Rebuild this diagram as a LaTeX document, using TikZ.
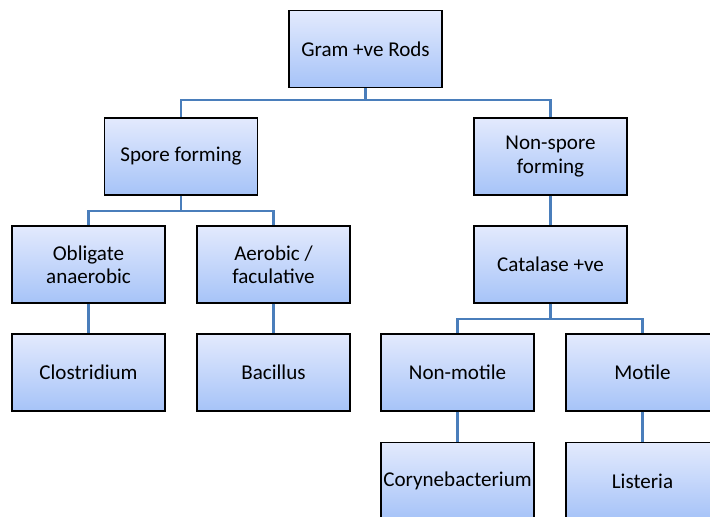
\documentclass[tikz,border=0pt]{standalone}
\usepackage{fontspec}
\setmainfont{Carlito}
\definecolor{linkblue}{HTML}{4A7EBB}
\definecolor{boxtop}{HTML}{E3EAFD}
\definecolor{boxbot}{HTML}{A6C3F8}
\begin{document}
\begin{tikzpicture}[x=0.75pt,y=-0.75pt,
  box/.style={draw=black, line width=1pt, top color=boxtop, bottom color=boxbot,
    minimum width=153*0.75pt, minimum height=77*0.75pt, inner sep=0pt,
    align=center, font=\fontsize{15.8}{17.5}\selectfont},
  link/.style={draw=linkblue, line width=2.2pt}]
\useasboundingbox (0,0) rectangle (710,517);
\clip (0,0) rectangle (710,517);
\node[box] (gram) at (365.5,49) {Gram +ve Rods};
\node[box] (spore) at (181,156.5) {Spore forming};
\node[box] (nonspore) at (550.5,156.5) {Non-spore\\forming};
\node[box] (oblig) at (88.5,264.5) {Obligate\\anaerobic};
\node[box] (aero) at (273.5,264.5) {Aerobic /\\faculative};
\node[box] (cata) at (550.5,264.5) {Catalase +ve};
\node[box] (clos) at (88.5,372.5) {Clostridium};
\node[box] (baci) at (273.5,372.5) {Bacillus};
\node[box] (nonmot) at (457.5,372.5) {Non-motile};
\node[box] (mot) at (642.5,372.5) {Motile};
\node[box] (cory) at (457.5,481) {Corynebacterium};
\node[box] (list) at (642.5,481) {Listeria};
% connectors
\coordinate (g1) at (365.5,100);
\draw[link] (gram.south) -- (g1) -| (spore.north);
\draw[link] (g1) -| (nonspore.north);
\coordinate (s1) at (181,211);
\draw[link] (spore.south) -- (s1) -| (oblig.north);
\draw[link] (s1) -| (aero.north);
\draw[link] (nonspore.south) -- (cata.north);
\coordinate (c1) at (550.5,319);
\draw[link] (cata.south) -- (c1) -| (nonmot.north);
\draw[link] (c1) -| (mot.north);
\draw[link] (oblig.south) -- (clos.north);
\draw[link] (aero.south) -- (baci.north);
\draw[link] (nonmot.south) -- (cory.north);
\draw[link] (mot.south) -- (list.north);
\end{tikzpicture}
\end{document}
